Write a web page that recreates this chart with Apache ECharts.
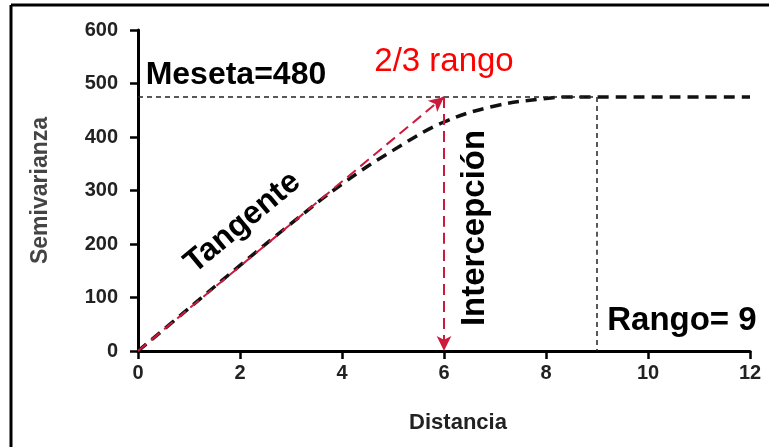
<!DOCTYPE html>
<html>
<head>
<meta charset="utf-8">
<script src="https://cdn.jsdelivr.net/npm/echarts@6/dist/echarts.min.js"></script>
<style>
  html, body { margin: 0; padding: 0; background: #fff; }
  #semivariograma { width: 769px; height: 447px; }
</style>
</head>
<body>
<div id="semivariograma"></div>
<script>
// datos
var distancia = [0, 1, 2, 3, 4, 5, 6, 7, 8, 8.5, 9, 10, 11, 12];
var semivarianza = [0, 80, 160, 238, 312, 375, 428, 458, 472, 475, 475, 475, 475, 475];
var xTicks = [0, 2, 4, 6, 8, 10, 12];
var yTicks = [0, 100, 200, 300, 400, 500, 600];
var mesetaNivel = 475;   // donde esta dibujada la linea
var mesetaTexto = 480;   // lo que dice la etiqueta
var rango = 9;
var dosTercios = 6;

function semivariograma(){
	var chartDom = document.getElementById('semivariograma');
	var myChart = echarts.init(chartDom);
	var rojo = '#cc1a3c';
	var tickFont = { color: '#222', fontSize: 20, fontWeight: 'bold', fontFamily: 'Liberation Sans' };

	var puntos = distancia.map(function (d, i) { return [d, semivarianza[i]]; });

	var option = {
	  animation: false,
	  grid: { left: 138, right: 19, top: 30, bottom: 96 },
	  xAxis: {
	    type: 'value',
	    min: xTicks[0],
	    max: xTicks[xTicks.length - 1],
	    interval: 2,
	    name: 'Distancia',
	    nameLocation: 'middle',
	    nameGap: 61,
	    nameTextStyle: { color: '#222', fontSize: 22, fontWeight: 'bold', fontFamily: 'Liberation Sans', padding: [0, 0, 0, 28] },
	    axisLine: { lineStyle: { color: '#000', width: 3 } },
	    axisTick: { length: 8, lineStyle: { color: '#000', width: 2.5 } },
	    axisLabel: Object.assign({ margin: 12 }, tickFont),
	    splitLine: { show: false }
	  },
	  yAxis: {
	    type: 'value',
	    min: yTicks[0],
	    max: yTicks[yTicks.length - 1],
	    interval: 100,
	    name: 'Semivarianza',
	    nameLocation: 'middle',
	    nameGap: 86,
	    nameTextStyle: { color: '#444', fontSize: 23, fontWeight: 'bold', fontFamily: 'Liberation Sans' },
	    axisLine: { show: true, lineStyle: { color: '#000', width: 3 } },
	    axisTick: { show: true, length: 8, lineStyle: { color: '#000', width: 2.5 } },
	    axisLabel: Object.assign({ margin: 20 }, tickFont),
	    splitLine: { show: false }
	  },
	  series: [
	    {
	      // modelo
	      type: 'line',
	      data: puntos,
	      smooth: 0.4,
	      showSymbol: false,
	      lineStyle: { color: '#111', width: 3.5, type: [11, 7] },
	      z: 3,
	      markLine: {
	        silent: true,
	        symbol: ['none', 'none'],
	        label: { show: false },
	        lineStyle: { color: '#222', width: 1.5, type: [5, 4] },
	        data: [
	          [{ coord: [0, mesetaNivel] }, { coord: [rango, mesetaNivel] }],
	          [{ coord: [rango, mesetaNivel] }, { coord: [rango, 0] }]
	        ]
	      }
	    },
	    {
	      // tangente y 2/3 rango
	      type: 'line',
	      data: [],
	      z: 4,
	      markLine: {
	        silent: true,
	        symbol: ['none', 'arrow'],
	        symbolSize: [11, 15],
	        label: { show: false },
	        lineStyle: { color: rojo, width: 2, type: [11, 6] },
	        data: [
	          [{ coord: [0, 0] }, { coord: [dosTercios, mesetaNivel] }],
	          [{ coord: [dosTercios, mesetaNivel] }, { coord: [dosTercios, 0] }]
	        ]
	      }
	    }
	  ]
	};

	myChart.setOption(option);

	// textos anclados en coordenadas de datos
	function px(x, y) { return myChart.convertToPixel({ gridIndex: 0 }, [x, y]); }
	var negrita = { fill: '#000', fontSize: 32, fontWeight: 'bold', fontFamily: 'Liberation Sans' };
	var pMeseta = px(0.15, mesetaNivel);
	var pRojo = px(6.0, 540);
	var pTang = px(2.05, 240);
	var pInter = px(6.6, 230);
	var pRango = px(9.2, 0);
	var pTan0 = px(0, 0), pTan1 = px(dosTercios, mesetaNivel);
	var angulo = Math.atan2(pTan0[1] - pTan1[1], pTan1[0] - pTan0[0]);

	myChart.setOption({
	  graphic: {
	    elements: [
	      { type: 'line', shape: { x1: 11, y1: 5, x2: 769, y2: 5 }, style: { stroke: '#000', lineWidth: 3 } },
	      { type: 'line', shape: { x1: 11, y1: 5, x2: 11, y2: 447 }, style: { stroke: '#000', lineWidth: 3 } },
	      {
	        type: 'text', x: pMeseta[0], y: pMeseta[1] - 6,
	        style: Object.assign({ text: 'Meseta=' + mesetaTexto, align: 'left', verticalAlign: 'bottom' }, negrita)
	      },
	      {
	        type: 'text', x: pRojo[0], y: pRojo[1],
	        style: { text: '2/3 rango', fill: '#ff0000', fontSize: 33, fontFamily: 'Liberation Sans', align: 'center', verticalAlign: 'middle' }
	      },
	      {
	        type: 'text', x: pTang[0], y: pTang[1], rotation: angulo,
	        style: Object.assign({ text: 'Tangente', align: 'center', verticalAlign: 'middle' }, negrita)
	      },
	      {
	        type: 'text', x: pInter[0], y: pInter[1], rotation: Math.PI / 2,
	        style: Object.assign({ text: 'Intercepción', align: 'center', verticalAlign: 'middle' }, negrita, { fontSize: 33 })
	      },
	      {
	        type: 'text', x: pRango[0], y: pRango[1] - 14,
	        style: Object.assign({ text: 'Rango= ' + rango, align: 'left', verticalAlign: 'bottom' }, negrita, { fontSize: 33 })
	      }
	    ]
	  }
	});
}
semivariograma();
</script>
</body>
</html>
